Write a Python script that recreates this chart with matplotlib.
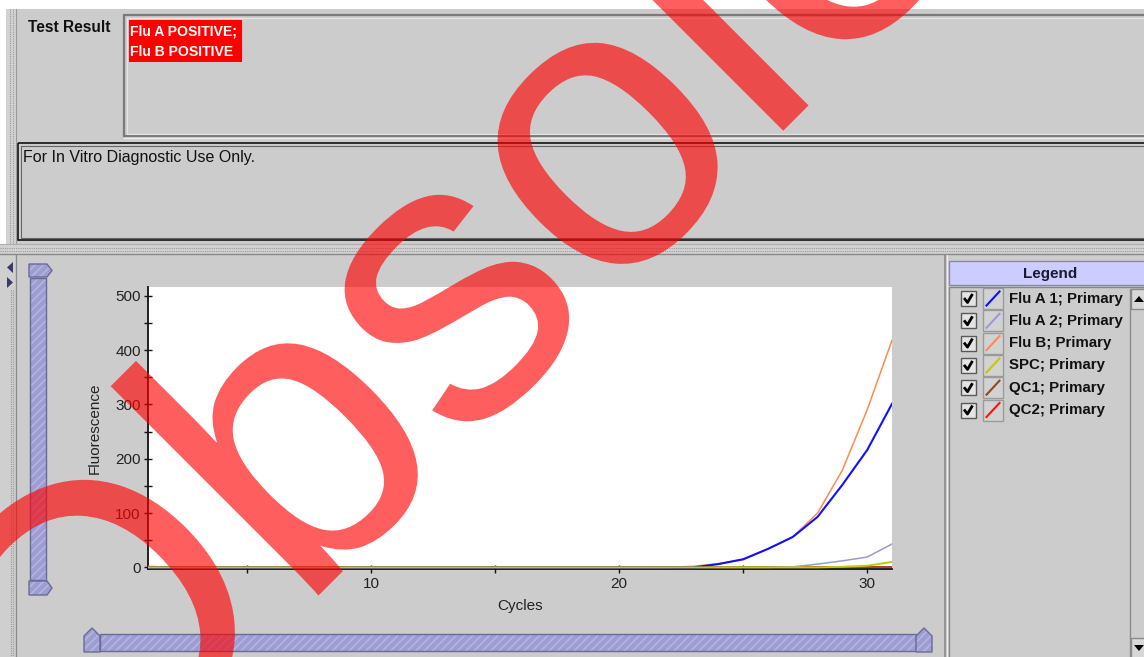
import numpy as np
import matplotlib
matplotlib.use("Agg")
import matplotlib.pyplot as plt
from matplotlib.patches import Rectangle, Polygon, PathPatch
from matplotlib.textpath import TextPath
from matplotlib.font_manager import FontProperties
import matplotlib.transforms as mtransforms
from matplotlib.ticker import MultipleLocator, FixedLocator

# ---------------- data ----------------
cycles = list(range(1, 32))
flu_a1 = [0] * 23 + [6, 15, 34, 56, 93, 152, 216, 301]
flu_a2 = [0] * 26 + [1, 6, 12, 19, 43]
flu_b = [2] + [0] * 21 + [2, 7, 14, 34, 56, 100, 179, 290, 418]
spc = [0] * 28 + [1, 3, 10]
qc1 = [0] * 31
qc2 = [0] * 31

series_names = ["Flu A 1; Primary", "Flu A 2; Primary", "Flu B; Primary",
                "SPC; Primary", "QC1; Primary", "QC2; Primary"]
series_colors = ["#1010ff", "#9a9ad6", "#ff8a50", "#c8c800", "#8b4a1c", "#ff1010"]
series_values = [flu_a1, flu_a2, flu_b, spc, qc1, qc2]

x_ticks = [10, 20, 30]
y_ticks = [0, 100, 200, 300, 400, 500]
result_lines = ["Flu A POSITIVE;", "Flu B POSITIVE"]

FONT = "Liberation Sans"
plt.rcParams["font.family"] = [FONT, "DejaVu Sans"]

W, H = 1144, 657
fig = plt.figure(figsize=(W / 100, H / 100), dpi=100)
fig.patch.set_facecolor("#cccccc")

bg = fig.add_axes([0, 0, 1, 1], zorder=0)
bg.set_xlim(0, W)
bg.set_ylim(H, 0)
bg.axis("off")


def rect(x0, y0, x1, y1, **kw):
    r = Rectangle((x0, y0), x1 - x0, y1 - y0, **kw)
    bg.add_patch(r)
    return r


def hline(x0, x1, y, **kw):
    bg.plot([x0, x1], [y, y], **kw)


def vline(x, y0, y1, **kw):
    bg.plot([x, x], [y0, y1], **kw)


# top white band and left white strip
rect(0, 0, W, 9, fc="white", ec="none")
rect(0, 0, 6, 244, fc="white", ec="none")

# top-left vertical splitter strip
rect(6, 9, 16, 244, fc="#d2d2d2", ec="none")
for xx in (9.5, 12.5):
    vline(xx, 9, 244, color="#9a9a9a", lw=0.8, ls=(0, (1, 1)))
vline(16, 9, 244, color="#9a9a9a", lw=0.8)

# test result box
rect(124, 15, 1160, 136, fc="#cccccc", ec="#7a7a7a", lw=1.6)
rect(126.5, 17.5, 1160, 133.5, fill=False, ec="#e6e6e6", lw=0.8)
hline(124, W, 137.5, color="#eeeeee", lw=1)
bg.text(28, 27, "Test Result", fontsize=11.2, fontweight="bold", color="#111111",
        ha="left", va="center", family=FONT)
rect(129, 20, 242, 62, fc="#ff0000", ec="none")
bg.text(130.5, 32, result_lines[0], fontsize=10.1, fontweight="bold", color="white",
        ha="left", va="center", family=FONT)
bg.text(130.5, 52.5, result_lines[1], fontsize=10.1, fontweight="bold", color="white",
        ha="left", va="center", family=FONT)

# disclaimer box
rect(18, 143, 1160, 240, fill=False, ec="#111111", lw=1.2)
rect(20.5, 145.5, 1160, 237.5, fill=False, ec="#666666", lw=0.8)
bg.text(23, 157.5, "For In Vitro Diagnostic Use Only.", fontsize=11.5, color="#111111",
        ha="left", va="center", family=FONT)

# horizontal splitter
rect(0, 244, W, 255, fc="#d2d2d2", ec="none")
for yy in (247.5, 250.5):
    hline(0, W, yy, color="#9a9a9a", lw=0.8, ls=(0, (1, 1)))
hline(0, W, 253.5, color="#8a8a8a", lw=1.0)
hline(0, W, 244, color="#b0b0b0", lw=0.8)

# lower pane left strip
rect(0, 255, 15, H, fc="#cfcfcf", ec="none")
for xx in (10.5, 13.0):
    vline(xx, 290, H, color="#9a9a9a", lw=0.8, ls=(0, (1, 1)))
vline(15.5, 255, H, color="#8a8a8a", lw=0.9)
bg.add_patch(Polygon([(13, 262), (13, 273), (7, 267.5)], closed=True, fc="#3a3a66", ec="none"))
bg.add_patch(Polygon([(7, 277), (7, 288), (13, 282.5)], closed=True, fc="#3a3a66", ec="none"))

plt.rcParams["hatch.linewidth"] = 1.2
SL_FACE = "#9d9dd2"
SL_HATCH = "#b4b4e4"
SL_EDGE = "#6a6a98"


def slider_shape(pts):
    bg.add_patch(Polygon(pts, closed=True, fc=SL_FACE, ec=SL_HATCH, lw=0, hatch="////"))
    bg.add_patch(Polygon(pts, closed=True, fill=False, ec=SL_EDGE, lw=1.0))


# vertical slider
slider_shape([(29, 264), (47, 264), (52, 270.5), (47, 277), (29, 277)])
slider_shape([(30, 278), (46, 278), (46, 580), (30, 580)])
slider_shape([(29, 581), (47, 581), (52, 588), (47, 595), (29, 595)])
# horizontal slider
slider_shape([(84, 652), (84, 636), (92, 628), (100, 636), (100, 652)])
slider_shape([(100, 634), (916, 634), (916, 651), (100, 651)])
slider_shape([(916, 652), (916, 636), (924, 628), (932, 636), (932, 652)])

# legend panel
vline(944.5, 255, H, color="#8a8a8a", lw=1.2)
vline(947, 255, H, color="#eeeeee", lw=0.8)
rect(949, 261, 1160, 285, fc="#ccccff", ec="#8a8aa8", lw=1.0)
bg.text(1050, 274, "Legend", fontsize=11, fontweight="bold", color="#1a1a33",
        ha="center", va="center", family=FONT)
rect(949, 287, 1160, 700, fill=False, ec="#888888", lw=1.0)
# scrollbar
rect(1130, 289, 1160, 700, fc="#cccccc", ec="#8a8a8a", lw=1.0)
rect(1131, 289, 1160, 309, fc="#d8d8d8", ec="#8a8a8a", lw=1.0)
bg.add_patch(Polygon([(1134, 302), (1144, 302), (1139, 296)], closed=True, fc="black"))
rect(1131, 638, 1160, 700, fc="#d8d8d8", ec="#8a8a8a", lw=1.0)
bg.add_patch(Polygon([(1134, 645), (1144, 645), (1139, 651)], closed=True, fc="black"))

for i, (name, col) in enumerate(zip(series_names, series_colors)):
    yc = 298.5 + 22.3 * i
    rect(961, yc - 7.5, 976, yc + 7.5, fc="#e4e4e4", ec="#5a5a5a", lw=1.0)
    bg.plot([964, 967.5, 972.5], [yc - 0.5, yc + 4, yc - 4.5], color="black", lw=2.0,
            solid_capstyle="butt")
    rect(983, yc - 10.5, 1003, yc + 10.5, fc="#d2d2d2", ec="#9a9a9a", lw=1.0)
    bg.plot([986.5, 999.5], [yc + 7, yc - 7], color=col, lw=1.5)
    bg.text(1009, yc, name, fontsize=10.8, fontweight="bold", color="#111111",
            ha="left", va="center", family=FONT)

# ---------------- chart ----------------
ax = fig.add_axes([148 / W, (H - 569) / H, (892 - 148) / W, (569 - 287) / H], zorder=2)
ax.set_facecolor("white")
order = [5, 4, 2, 1, 0, 3]
lws = [1.5, 1.1, 1.1, 1.4, 1.1, 1.1]
for k in order:
    ax.plot(cycles, series_values[k], color=series_colors[k], lw=lws[k], zorder=3)
ax.set_xlim(1, 31)
ax.set_ylim(-3, 516)
for s in ("top", "right"):
    ax.spines[s].set_visible(False)
for s in ("left", "bottom"):
    ax.spines[s].set_color("#111111")
    ax.spines[s].set_linewidth(1.3)
ax.xaxis.set_major_locator(FixedLocator(x_ticks))
ax.xaxis.set_minor_locator(FixedLocator([5, 15, 25]))
ax.yaxis.set_major_locator(FixedLocator(y_ticks))
ax.yaxis.set_minor_locator(MultipleLocator(50))
ax.tick_params(which="both", direction="inout", length=5.5, width=1.0, color="#111111")
ax.tick_params(axis="y", which="major", pad=2.5, labelsize=11, labelcolor="#222222")
ax.tick_params(axis="x", which="major", pad=3.0, labelsize=11, labelcolor="#222222")
ax.set_xlabel("Cycles", fontsize=11, color="#222222", labelpad=6)
ax.set_ylabel("Fluorescence", fontsize=11, color="#222222", labelpad=10)

# ---------------- watermark ----------------
over = fig.add_axes([0, 0, 1, 1], zorder=10)
over.set_xlim(0, W)
over.set_ylim(H, 0)
over.axis("off")
over.patch.set_alpha(0)
tp = TextPath((0, 0), "Obsolete", size=1, prop=FontProperties(family=FONT))
EM = 407.0
ANG = np.deg2rad(45.0)
u = (EM * np.cos(ANG), -EM * np.sin(ANG))
v = (-EM * np.sin(ANG), -EM * np.cos(ANG))
P0 = (76.0, 838.0)
aff = mtransforms.Affine2D(np.array([[u[0], v[0], P0[0]],
                                     [u[1], v[1], P0[1]],
                                     [0, 0, 1]]))
over.add_patch(PathPatch(tp, transform=aff + over.transData,
                         facecolor=(1, 0, 0, 0.63), edgecolor="none"))

fig.savefig("out.png", dpi=100, facecolor=fig.get_facecolor())
